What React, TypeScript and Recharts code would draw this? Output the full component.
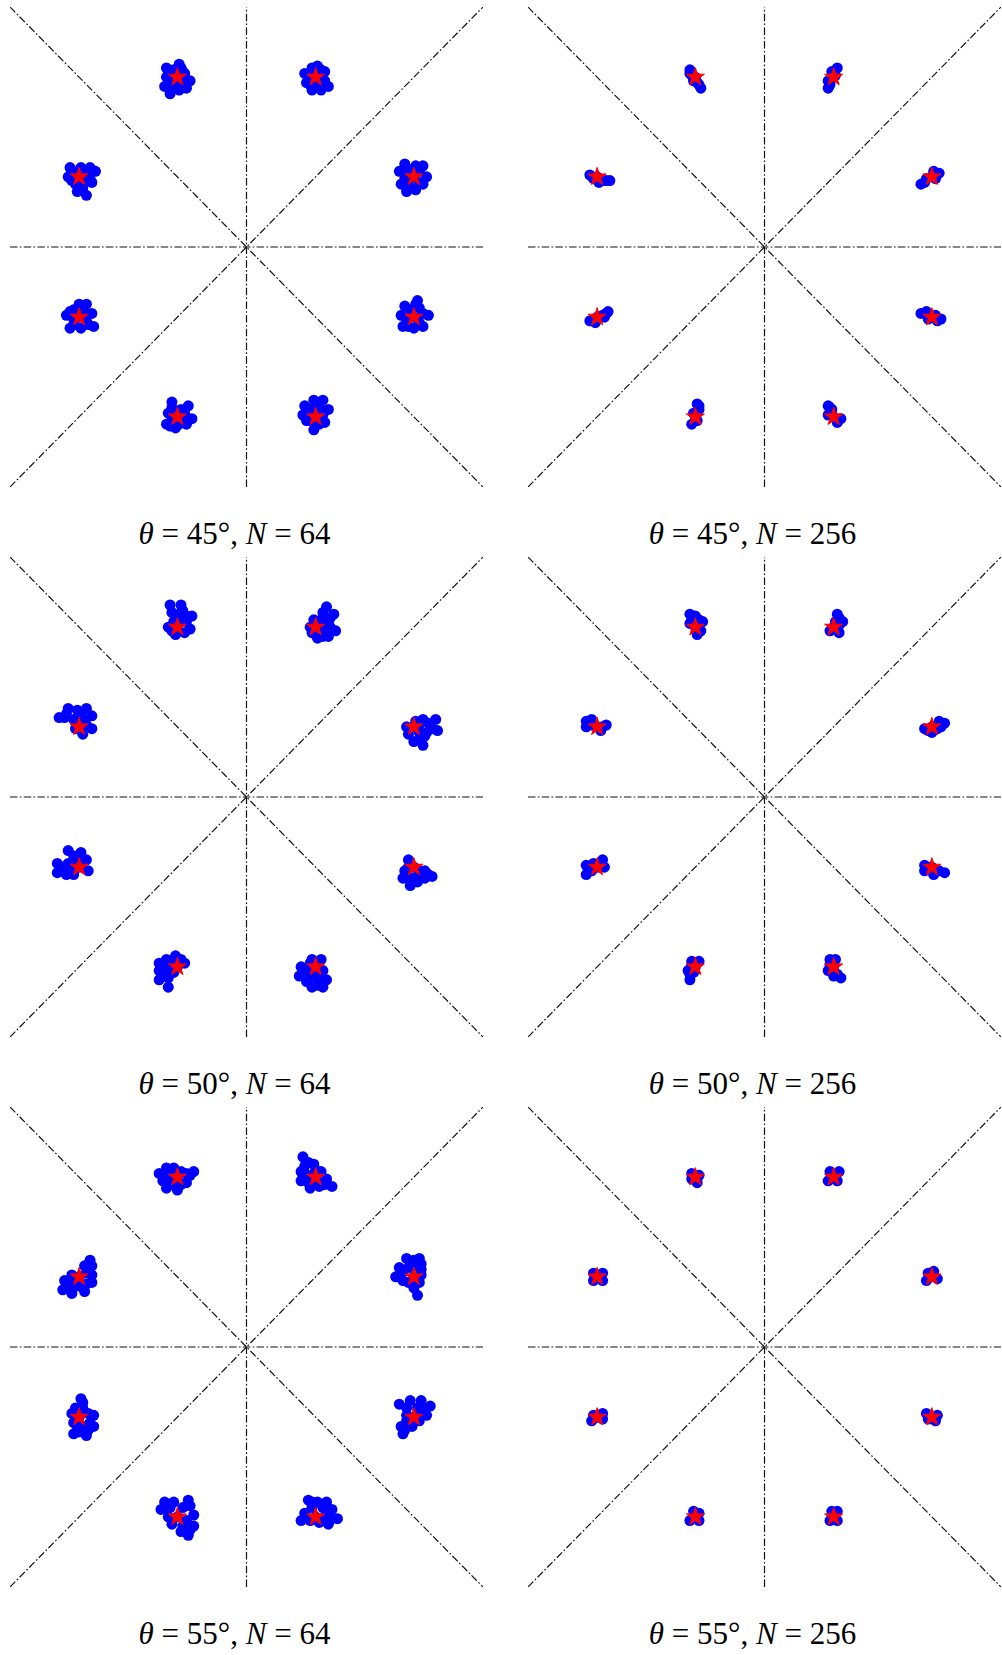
import { ScatterChart, Scatter, XAxis, YAxis, ReferenceLine } from 'recharts';

type Pt = [number, number];

// ideal constellation (8-PSK, rotated by 22.5 degrees)
const stars: Pt[] = [
  [-0.38, 0.92], [0.38, 0.92], [-0.92, 0.38], [0.92, 0.38],
  [-0.92, -0.38], [0.92, -0.38], [-0.38, -0.92], [0.38, -0.92],
];

const thetas = ['45°', '50°', '55°'];
const sampleSizes = [64, 256];

// received samples, as offsets from the ideal point of each cluster
const spread45n64: Pt[][] = [
  [[0.01, 0.07], [-0.06, 0.05], [-0.02, 0.04], [0.04, 0.02], [0.07, -0.02], [0.05, -0.06], [0.01, -0.07], [-0.04, -0.09], [-0.07, -0.05], [-0.06, 0], [0, 0], [0.03, -0.02], [-0.02, -0.03], [0.02, 0.05], [-0.03, 0.02], [0.03, 0.03], [-0.03, -0.05], [0.03, -0.05], [-0.05, 0.03]],
  [[0.01, 0.06], [-0.02, 0.05], [-0.06, 0.02], [-0.05, -0.03], [-0.02, -0.07], [0.03, -0.07], [0.07, -0.05], [0.05, 0.03], [0, 0], [0.03, -0.01], [-0.01, -0.02], [0.03, 0.04], [-0.03, 0.02], [0.05, -0.02], [-0.03, -0.04], [0.01, -0.05]],
  [[-0.05, 0.05], [0.01, 0.05], [0.06, 0.05], [0.09, 0.03], [-0.06, 0], [-0.04, -0.02], [0.07, -0.03], [0.03, -0.02], [-0.01, -0.08], [0.04, -0.1], [0, 0], [0.02, 0.02], [-0.03, 0.03], [0.05, 0.01], [-0.02, -0.04], [0.02, -0.06], [0.06, -0.01]],
  [[-0.05, 0.07], [0.01, 0.06], [0.05, 0.06], [0.07, 0], [0.05, -0.04], [0.01, -0.07], [-0.04, -0.08], [-0.07, -0.04], [-0.08, 0.03], [-0.03, 0], [0, 0], [-0.03, 0.04], [0.03, 0.03], [0.03, -0.03], [-0.03, -0.04], [-0.05, -0.01], [-0.02, -0.06]],
  [[0, 0.07], [0.04, 0.07], [-0.07, 0.01], [-0.05, -0.06], [0.01, -0.06], [0.08, -0.05], [0.07, 0.02], [-0.03, -0.01], [0, 0], [0.04, -0.02], [-0.03, 0.04], [0.03, 0.03], [-0.03, -0.04], [0.05, -0.04], [-0.05, 0.03]],
  [[0.02, 0.09], [-0.05, 0.06], [-0.07, 0.01], [-0.06, -0.05], [0, -0.06], [0.05, -0.05], [0.08, 0.01], [0.03, 0.05], [0, 0], [-0.02, 0.04], [0.05, 0.02], [-0.04, -0.02], [0.03, -0.03], [-0.03, -0.05], [0.01, 0.07]],
  [[-0.03, 0.08], [0.06, 0.06], [0.08, -0.01], [0.05, -0.04], [-0.01, -0.06], [-0.06, -0.04], [-0.05, 0.02], [0, 0], [0.02, 0.04], [-0.03, 0.05], [0.04, 0.02], [-0.03, -0.02], [0.03, -0.03], [-0.04, -0.05], [0.01, -0.04]],
  [[-0.01, 0.09], [0.04, 0.09], [-0.06, 0.06], [0.07, 0.04], [-0.07, 0.01], [0.05, -0.03], [-0.01, -0.07], [-0.03, -0.02], [0, 0], [-0.03, 0.04], [0.02, 0.05], [0.04, 0.01], [-0.05, -0.02], [0.02, -0.04], [0.01, 0.07]],
];

const spread45n256: Pt[][] = [
  [[-0.03, 0.04], [-0.02, 0.01], [0, 0], [0.01, -0.03], [0.03, -0.06], [-0.01, -0.02], [-0.03, 0.02], [0.02, -0.04]],
  [[0.02, 0.05], [-0.01, 0.03], [0, 0], [-0.03, -0.02], [-0.03, -0.06], [0.01, 0.01], [-0.02, -0.04]],
  [[-0.04, 0.01], [0, 0], [0.03, -0.02], [0.07, -0.02], [0.01, -0.03], [-0.02, -0.01], [0.05, -0.02]],
  [[-0.06, -0.04], [-0.03, -0.01], [0, 0], [0.04, 0.02], [0.01, 0.03], [0.02, -0.01], [-0.04, -0.03]],
  [[-0.04, -0.02], [0, 0], [0.03, 0.01], [0.06, 0.03], [-0.01, -0.03], [0.04, 0], [0.05, 0.02]],
  [[-0.06, 0.02], [-0.03, 0.03], [0, 0], [0.05, -0.01], [0.02, 0.01], [-0.02, -0.01], [0.03, -0.02]],
  [[0.01, 0.07], [0.02, 0.04], [0, 0], [-0.02, -0.04], [0.01, -0.02], [-0.01, 0.02], [0.02, 0.06]],
  [[-0.03, 0.06], [-0.01, 0.04], [0, 0], [0.02, -0.03], [0.04, -0.01], [-0.03, 0.01], [-0.02, 0.05]],
];

const spread50n64: Pt[][] = [
  [[-0.04, 0.12], [0.02, 0.12], [-0.03, 0.08], [0.01, 0.07], [0.08, 0.06], [0.05, 0.03], [-0.05, 0], [0, 0], [-0.01, -0.04], [0.04, -0.03], [0.07, -0.01], [-0.02, 0.03], [0.03, 0.09], [0.05, 0.06], [-0.03, -0.02], [0.02, 0.04]],
  [[0.06, 0.11], [0.04, 0.08], [0.1, 0.07], [0.07, 0.03], [0.11, -0.02], [0.07, -0.05], [0.01, -0.06], [-0.03, 0], [-0.01, 0.04], [0, 0], [0.04, -0.01], [0.08, 0], [0.04, -0.05], [0.08, 0.05], [0.03, 0.04], [-0.02, -0.03]],
  [[-0.11, 0.05], [-0.07, 0.07], [-0.06, 0.1], [-0.01, 0.09], [0.04, 0.1], [0.07, 0.06], [0.07, -0.01], [0.02, -0.04], [-0.02, -0.01], [0, 0], [0.03, 0.04], [-0.03, 0.04], [0.01, 0.06], [0.04, 0.01], [-0.08, 0.05]],
  [[-0.04, 0], [-0.03, -0.04], [0, -0.08], [0.05, -0.1], [0.06, -0.05], [0.1, -0.01], [0.12, 0.04], [0.13, -0.02], [0.05, 0.04], [0.01, 0.03], [0, 0], [0.03, -0.03], [0.08, 0.02], [0.03, -0.07], [0.07, -0.03], [0.03, 0.01]],
  [[-0.06, 0.09], [0.01, 0.08], [-0.12, 0.02], [-0.12, -0.03], [-0.07, -0.04], [-0.03, -0.04], [0.05, -0.02], [0.04, 0.04], [-0.06, 0.02], [0, 0], [-0.03, 0.06], [-0.09, 0], [-0.03, 0.02], [0.02, 0.03], [-0.06, -0.01], [-0.01, 0.06]],
  [[-0.03, 0.04], [-0.05, -0.02], [-0.06, -0.06], [-0.02, -0.1], [0.02, -0.08], [0.1, -0.05], [0.06, -0.02], [0, 0], [0.02, -0.05], [-0.03, -0.05], [0.06, -0.06], [-0.03, 0], [0.03, -0.02], [-0.02, -0.07], [0.08, -0.04]],
  [[-0.01, 0.06], [0.04, 0.02], [-0.1, 0.02], [-0.06, 0.04], [-0.1, -0.02], [-0.1, -0.07], [-0.05, -0.11], [-0.05, -0.06], [0, 0], [-0.04, 0], [-0.07, -0.04], [-0.02, 0.03], [-0.07, 0.01], [-0.02, -0.03], [-0.05, -0.03], [0.02, 0.04]],
  [[-0.02, 0.04], [0.03, 0.04], [-0.08, 0], [-0.09, -0.05], [-0.02, -0.11], [0.04, -0.11], [0.06, -0.07], [0.04, -0.02], [0, 0], [-0.03, -0.05], [0.01, -0.07], [-0.05, -0.08], [-0.05, -0.02], [0.02, -0.04], [0.01, -0.1], [-0.03, 0.02]],
];

const spread50n256: Pt[][] = [
  [[-0.03, 0.07], [0, 0.06], [0.04, 0.03], [0.03, -0.02], [0.01, -0.04], [-0.03, 0.02], [0, 0], [-0.02, 0.04], [0.02, 0.04]],
  [[0.02, 0.07], [0.05, 0.03], [0.03, -0.03], [-0.02, -0.02], [0, 0], [0.01, 0.03], [0.03, 0.05], [0.03, 0.01]],
  [[-0.06, 0.03], [-0.03, 0.04], [-0.06, 0], [0.05, 0.01], [0.02, -0.02], [0, 0], [-0.03, 0.01], [0.03, 0]],
  [[-0.04, -0.01], [0.07, 0.02], [0.03, -0.01], [0, -0.03], [0, 0], [0.04, 0.03], [-0.02, -0.02], [0.05, 0]],
  [[-0.06, 0.01], [-0.06, -0.04], [0.03, 0.04], [0.04, 0], [-0.02, 0.02], [0, 0], [-0.03, -0.02], [0.02, 0.02]],
  [[-0.04, 0.01], [-0.04, -0.02], [0, 0], [0.04, -0.02], [0.07, -0.03], [0.01, -0.04], [0.02, -0.02], [-0.02, 0]],
  [[0.02, 0.03], [-0.02, 0.03], [-0.04, -0.02], [-0.03, -0.07], [0, 0], [-0.01, -0.03], [-0.03, -0.04], [-0.02, 0.01]],
  [[-0.02, 0.04], [0.01, 0.04], [-0.03, -0.02], [0, -0.05], [0.04, -0.06], [0, 0], [0.02, -0.04], [-0.02, 0.01]],
];

const spread55n64: Pt[][] = [
  [[-0.1, 0.02], [-0.06, 0.05], [-0.02, 0.05], [0.09, 0.03], [0.05, 0.02], [-0.08, -0.02], [-0.06, -0.06], [0, -0.07], [0.05, -0.03], [0, 0], [-0.04, 0], [-0.03, -0.04], [0.02, 0.03], [-0.06, 0.02], [0.02, -0.04], [0.07, 0.01], [-0.02, 0.03]],
  [[-0.07, 0.11], [-0.04, 0.08], [-0.01, 0.07], [-0.08, 0.03], [-0.08, -0.02], [-0.03, -0.06], [0.02, -0.05], [0.09, -0.05], [0.06, -0.01], [0.03, 0.03], [0, 0], [-0.04, 0.01], [-0.04, -0.03], [0.05, -0.04], [-0.06, 0.06], [0, 0.04], [0.01, -0.03], [-0.07, 0]],
  [[0.06, 0.09], [0.07, 0.06], [0.03, 0.06], [0.07, -0.03], [0.03, -0.08], [-0.04, -0.09], [-0.09, -0.07], [-0.08, -0.02], [-0.04, 0.01], [0, 0], [0, -0.05], [0.04, 0.02], [-0.05, -0.05], [0.04, -0.04], [0.05, 0.04], [-0.02, -0.03], [0.07, 0.01], [-0.06, -0.04]],
  [[-0.04, 0.1], [0.03, 0.1], [0.04, 0.07], [-0.08, 0.05], [-0.1, 0], [-0.06, -0.02], [0.04, 0.01], [0, -0.06], [0.02, -0.1], [0, 0], [-0.03, 0.05], [0, 0.06], [-0.03, -0.03], [0, 0.09], [-0.06, 0.03], [0.03, -0.03], [0.04, 0.04]],
  [[0.01, 0.1], [-0.02, 0.05], [0.02, 0.05], [0.08, 0.01], [0.08, -0.05], [0.04, -0.1], [-0.03, -0.09], [-0.03, -0.03], [0, 0], [0.03, -0.05], [-0.04, 0.02], [0.05, 0.02], [0, -0.08], [0.05, -0.07], [0.06, -0.03], [0.02, 0.08], [-0.01, -0.05]],
  [[-0.08, 0.07], [-0.02, 0.09], [0.04, 0.09], [0.09, 0.06], [0.07, 0.01], [0.03, -0.02], [-0.06, -0.09], [-0.07, -0.05], [-0.04, 0.01], [0, 0], [-0.01, -0.05], [0.02, 0.05], [-0.04, 0.05], [0.06, 0.04], [-0.04, -0.02], [-0.05, -0.07], [0.04, 0.02]],
  [[-0.07, 0.08], [-0.02, 0.08], [0.06, 0.09], [-0.09, 0.04], [0.09, 0.01], [0.09, -0.05], [0.06, -0.1], [0.02, -0.08], [-0.03, -0.04], [0, 0], [-0.05, 0], [0.05, -0.02], [0.03, 0.05], [-0.04, 0.05], [0.07, 0.06], [0.07, -0.07], [0.03, -0.05], [-0.06, 0.04]],
  [[-0.04, 0.09], [0.01, 0.08], [0.06, 0.08], [0.09, 0.04], [0.12, -0.01], [0.07, -0.04], [0.02, -0.03], [-0.08, -0.02], [-0.06, 0.02], [0, 0], [0.05, 0], [-0.02, 0.05], [0.04, 0.05], [-0.03, -0.02], [0.09, -0.01], [-0.02, 0.08], [0.06, 0.03]],
];

const spread55n256: Pt[][] = [
  [[-0.02, 0.02], [0.02, 0.01], [0.01, -0.03], [-0.02, -0.01], [0, 0]],
  [[-0.02, 0.03], [0.03, 0.03], [-0.03, -0.02], [0.02, -0.02], [0, 0]],
  [[-0.02, 0.02], [0.03, 0.02], [0.03, -0.02], [-0.02, -0.02], [0, 0]],
  [[-0.02, 0.02], [0.01, 0.03], [0.03, -0.01], [-0.03, -0.02], [0, 0]],
  [[-0.02, 0.01], [0.03, 0.02], [0.03, -0.01], [-0.03, -0.02], [0, 0]],
  [[-0.03, 0.02], [0.03, 0.01], [0.02, -0.02], [-0.02, -0.01], [0, 0]],
  [[-0.01, 0.03], [0.02, 0.02], [-0.03, -0.02], [0.02, -0.02], [0, 0]],
  [[-0.01, 0.03], [0.02, 0.03], [-0.02, -0.02], [0.02, -0.02], [0, 0]],
];

const spreads: Pt[][][][] = [
  [spread45n64, spread45n256],
  [spread50n64, spread50n256],
  [spread55n64, spread55n256],
];

const LIM = 1.3;
const DASH = '7.5 2.3 1.6 2.3';
const PANEL_W = 473;
const PANEL_H = 480;
const COL_X = [10, 528];
const ROW_Y = [7, 557, 1107];

const Dot = (props: any) => (
  <circle cx={props.cx} cy={props.cy} r={5.5} fill="#0000ff" />
);

const Star = (props: any) => {
  const { cx, cy } = props;
  const outer = 9.5;
  const inner = outer * 0.382;
  let d = '';
  for (let k = 0; k < 10; k++) {
    const rad = k % 2 === 0 ? outer : inner;
    const a = -Math.PI / 2 + (k * Math.PI) / 5;
    d += (k === 0 ? 'M' : 'L') + (cx + rad * Math.cos(a)).toFixed(2) + ',' + (cy + rad * Math.sin(a)).toFixed(2);
  }
  return <path d={d + 'Z'} fill="#ff0000" stroke="#ff0000" strokeWidth={1} strokeLinejoin="miter" />;
};

function Constellation({ spread }: { spread: Pt[][] }) {
  const samples = spread.flatMap((cluster, i) =>
    cluster.map(([dx, dy]) => ({ x: stars[i][0] + dx, y: stars[i][1] + dy }))
  );
  const ideal = stars.map(([x, y]) => ({ x, y }));
  const lineProps = { stroke: '#111', strokeWidth: 1.2, strokeDasharray: DASH, ifOverflow: 'visible' as const };

  return (
    <ScatterChart width={PANEL_W} height={PANEL_H} margin={{ top: 0, right: 0, bottom: 0, left: 0 }}>
      <XAxis type="number" dataKey="x" domain={[-LIM, LIM]} allowDataOverflow hide />
      <YAxis type="number" dataKey="y" domain={[-LIM, LIM]} allowDataOverflow hide />
      <ReferenceLine y={0} {...lineProps} />
      <ReferenceLine x={0} {...lineProps} />
      <ReferenceLine segment={[{ x: -LIM, y: -LIM }, { x: LIM, y: LIM }]} {...lineProps} />
      <ReferenceLine segment={[{ x: -LIM, y: LIM }, { x: LIM, y: -LIM }]} {...lineProps} />
      <Scatter data={samples} shape={Dot} isAnimationActive={false} />
      <Scatter data={ideal} shape={Star} isAnimationActive={false} />
    </ScatterChart>
  );
}

export default function App() {
  return (
    <div style={{ position: 'absolute', left: 0, top: 0, width: 1002, height: 1655, background: '#fff' }}>
      {thetas.map((theta, r) =>
        sampleSizes.map((n, c) => (
          <div key={`${r}-${c}`}>
            <div style={{ position: 'absolute', left: COL_X[c], top: ROW_Y[r] }}>
              <Constellation spread={spreads[r][c]} />
            </div>
            <div
              style={{
                position: 'absolute',
                left: COL_X[c] - 12,
                top: ROW_Y[r] + 511,
                width: PANEL_W,
                textAlign: 'center',
                fontFamily: '"Liberation Serif", serif',
                fontSize: 31,
                lineHeight: '31px',
                color: '#000',
                whiteSpace: 'pre',
              }}
            >
              <i>θ</i>{' = ' + theta + ', '}<i>N</i>{' = ' + n}
            </div>
          </div>
        ))
      )}
    </div>
  );
}
